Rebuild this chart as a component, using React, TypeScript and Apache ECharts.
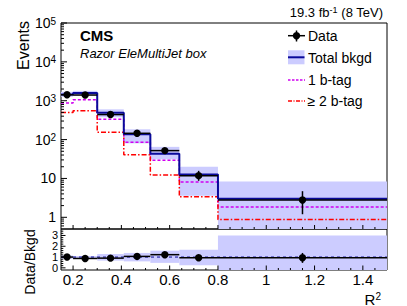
import React, { useEffect, useRef } from 'react';
import * as echarts from 'echarts';

// ---------- data ----------
const binEdges = [0.15, 0.2, 0.3, 0.41, 0.52, 0.64, 0.8, 1.5];
const binCenters = [0.175, 0.25, 0.355, 0.465, 0.58, 0.72, 1.15];

const dataValues = [1420, 1400, 440, 145, 52, 11.8, 2.8];
const dataErrLow = [1382, 1363, 419, 133, 45, 8.7, 1.2];
const dataErrHigh = [1458, 1437, 461, 157, 59, 15.7, 4.7];

const totalBkgd = [1450, 1580, 490, 137, 43, 12.6, 3.0];
const bkgdBandLow = [1270, 1380, 375, 80, 31, 3.6, 0.3];
const bkgdBandHigh = [1700, 1800, 600, 184, 65, 20, 8.4];

const oneBtag = [880, 1060, 333, 86, 29.6, 8.1, 1.85];
const twoBtag = [500, 550, 155, 41, 12.2, 3.4, 0.88];

const ratioValues = [1.0, 0.87, 0.9, 1.06, 1.22, 0.93, 0.93];
const ratioErrLow = [0.97, 0.84, 0.86, 0.98, 1.08, 0.66, 0.46];
const ratioErrHigh = [1.03, 0.9, 0.94, 1.14, 1.36, 1.2, 1.38];
const ratioBandLow = [0.85, 0.88, 0.67, 0.6, 0.46, 0.24, -1];
const ratioBandHigh = [1.15, 1.1, 1.28, 1.38, 1.59, 1.68, 3.0];

// tick marks
const xMajorTicks = [0.2, 0.4, 0.6, 0.8, 1.0, 1.2, 1.4];
const xMinorTicks = [0.25, 0.3, 0.35, 0.45, 0.5, 0.55, 0.65, 0.7, 0.75, 0.85, 0.9, 0.95, 1.05, 1.1, 1.15, 1.25, 1.3, 1.35, 1.45];
const yMajorTicks = [1, 10, 100, 1000, 10000, 100000];
const yMinorMantissas = [2, 3, 4, 5, 6, 7, 8, 9];
const yMinorDecades = [0.1, 1, 10, 100, 1000, 10000];
const rMajorTicks = [0, 1, 2, 3];
const rMinorTicks = [0.2, 0.4, 0.6, 0.8, 1.2, 1.4, 1.6, 1.8, 2.2, 2.4, 2.6, 2.8, 3.2, 3.4];

// axis ranges
const X_MIN = 0.15;
const X_MAX = 1.5;
const Y_MIN = 0.5;
const Y_MAX = 1e5;
const R_MIN = -0.2;
const R_MAX = 3.6;
const R_REF = 1;

const FONT = "'Liberation Sans', Arial, Helvetica, sans-serif";
const BAND = '#ccccff';
const NAVY = '#0a0a9a';
const MAG = '#d000f0';
const RED = '#ff0000';

function App() {
  const ref = useRef<HTMLDivElement>(null);

  useEffect(() => {
    if (!ref.current) return;
    const chart = echarts.init(ref.current, null, { renderer: 'svg' });

    const yMinorTicks: number[] = [];
    yMinorDecades.forEach((d) =>
      yMinorMantissas.forEach((m) => {
        const v = m * d;
        if (v > Y_MIN && v < Y_MAX) yMinorTicks.push(v);
      })
    );

    const stepData = (vals: number[]) =>
      binEdges.map((e, i) => [e, vals[Math.min(i, vals.length - 1)]]);

    const bandSeries = (lo: number[], hi: number[], idx: number, minV: number, maxV: number) => ({
      type: 'custom',
      xAxisIndex: idx,
      yAxisIndex: idx,
      z: 1,
      silent: true,
      data: binCenters.map((c, i) => [c, hi[i], i]),
      renderItem: (_p: any, api: any) => {
        const i = api.value(2);
        const top = Math.min(hi[i], maxV);
        const bot = Math.max(lo[i], minV);
        const p1 = api.coord([binEdges[i], top]);
        const p2 = api.coord([binEdges[i + 1], bot]);
        return {
          type: 'rect',
          shape: { x: p1[0], y: p1[1], width: p2[0] - p1[0], height: p2[1] - p1[1] },
          style: { fill: BAND },
        };
      },
    });

    const pointsSeries = (vals: number[], lo: number[], hi: number[], idx: number) => ({
      type: 'custom',
      xAxisIndex: idx,
      yAxisIndex: idx,
      z: 6,
      silent: true,
      data: binCenters.map((c, i) => [c, vals[i], i]),
      renderItem: (_p: any, api: any) => {
        const i = api.value(2);
        const pc = api.coord([binCenters[i], vals[i]]);
        const pl = api.coord([binEdges[i], vals[i]]);
        const pr = api.coord([binEdges[i + 1], vals[i]]);
        const plo = api.coord([binCenters[i], lo[i]]);
        const phi = api.coord([binCenters[i], hi[i]]);
        const st = { stroke: '#000', lineWidth: 1.5 };
        return {
          type: 'group',
          children: [
            { type: 'line', shape: { x1: pl[0], y1: pc[1], x2: pr[0], y2: pc[1] }, style: st },
            { type: 'line', shape: { x1: pc[0], y1: plo[1], x2: pc[0], y2: phi[1] }, style: st },
            { type: 'circle', shape: { cx: pc[0], cy: pc[1], r: 3.7 }, style: { fill: '#000' } },
          ],
        };
      },
    });

    const tickSeries = (idx: number, yBase: number, yTicks: [number, number][]) => {
      const items: number[][] = [];
      xMajorTicks.forEach((v) => items.push([v, yBase, idx === 0 ? 4 : 4.5, 0]));
      xMinorTicks.forEach((v) => items.push([v, yBase, 2, 0]));
      yTicks.forEach(([v, len]) => items.push([X_MIN, v, len, 1]));
      return {
        type: 'custom',
        xAxisIndex: idx,
        yAxisIndex: idx,
        z: 8,
        silent: true,
        data: items,
        renderItem: (_p: any, api: any) => {
          const isY = api.value(3) === 1;
          const len = api.value(2);
          const p = api.coord([api.value(0), api.value(1)]);
          return {
            type: 'line',
            shape: isY
              ? { x1: p[0], y1: p[1], x2: p[0] + len, y2: p[1] }
              : { x1: p[0], y1: p[1], x2: p[0], y2: p[1] - len },
            style: { stroke: '#000', lineWidth: 1 },
          };
        },
      };
    };

    const topYTicks: [number, number][] = [
      ...yMajorTicks.map((v) => [v, 6] as [number, number]),
      ...yMinorTicks.map((v) => [v, 3] as [number, number]),
    ];
    const ratioYTicks: [number, number][] = [
      ...rMajorTicks.map((v) => [v, 4.5] as [number, number]),
      ...rMinorTicks.map((v) => [v, 2.3] as [number, number]),
    ];

    const logLabel = (v: number) => {
      const l = Math.log10(v);
      const e = Math.round(l);
      if (Math.abs(l - e) > 1e-6) return '';
      if (e === 0) return '{n|1}';
      if (e === 1) return '{n|10}';
      return `{n|10}{s|${e}}`;
    };

    const option: any = {
      animation: false,
      textStyle: { fontFamily: FONT },
      grid: [
        { left: 61, top: 23, right: 20, height: 206, show: true, borderColor: '#000', borderWidth: 1, backgroundColor: 'transparent' },
        { left: 61, top: 229, right: 20, height: 41, show: true, borderColor: '#000', borderWidth: 1, backgroundColor: 'transparent' },
      ],
      xAxis: [
        {
          type: 'value', gridIndex: 0, min: X_MIN, max: X_MAX, minInterval: 0.2, maxInterval: 0.2,
          axisLine: { show: false }, axisTick: { show: false }, axisLabel: { show: false }, splitLine: { show: false },
        },
        {
          type: 'value', gridIndex: 1, min: X_MIN, max: X_MAX, minInterval: 0.2, maxInterval: 0.2,
          axisLine: { show: false }, axisTick: { show: false }, splitLine: { show: false },
          axisLabel: { showMinLabel: false, showMaxLabel: false, fontSize: 15, color: '#000', margin: 2, fontFamily: FONT },
        },
      ],
      yAxis: [
        {
          type: 'log', gridIndex: 0, min: Y_MIN, max: Y_MAX, logBase: 10,
          axisLine: { show: false }, axisTick: { show: false }, splitLine: { show: false },
          axisLabel: {
            showMinLabel: false, margin: 5, color: '#000', formatter: logLabel,
            rich: {
              n: { fontSize: 14, fontFamily: FONT, color: '#000', lineHeight: 14, verticalAlign: 'bottom' },
              s: { fontSize: 10, fontFamily: FONT, color: '#000', lineHeight: 10, verticalAlign: 'top', padding: [0, 0, 8, 0] },
            },
          },
        },
        {
          type: 'value', gridIndex: 1, min: R_MIN, max: R_MAX, minInterval: 1, maxInterval: 1,
          axisLine: { show: false }, axisTick: { show: false }, splitLine: { show: false },
          axisLabel: {
            showMinLabel: false, showMaxLabel: false, fontSize: 11, margin: 3, color: '#000', fontFamily: FONT,
            formatter: (v: number) => (Math.abs(v - Math.round(v)) < 1e-6 ? String(Math.round(v)) : ''),
          },
        },
      ],
      graphic: [
        { type: 'text', x: 80, y: 35, style: { text: 'CMS', fontFamily: FONT, fontWeight: 'bold', fontSize: 15, fill: '#000', textVerticalAlign: 'middle' } },
        { type: 'text', x: 80, y: 53.5, style: { text: 'Razor EleMultiJet box', fontFamily: FONT, fontStyle: 'italic', fontSize: 13, fill: '#000', textVerticalAlign: 'middle' } },
        {
          type: 'text', x: 383, y: 12,
          style: {
            text: '{a|19.3 fb}{s|-1}{a| (8 TeV)}', textAlign: 'right', textVerticalAlign: 'middle', fill: '#000',
            rich: {
              a: { fontSize: 13, fontFamily: FONT, fill: '#000', lineHeight: 14, verticalAlign: 'bottom' },
              s: { fontSize: 9, fontFamily: FONT, fill: '#000', lineHeight: 9, verticalAlign: 'top', padding: [0, 0, 6, 0] },
            },
          },
        },
        { type: 'text', x: 23, y: 21, rotation: Math.PI / 2, style: { text: 'Events', fontFamily: FONT, fontSize: 16, fill: '#000', textAlign: 'right', textVerticalAlign: 'middle' } },
        { type: 'text', x: 30, y: 262, rotation: Math.PI / 2, style: { text: 'Data/Bkgd', fontFamily: FONT, fontSize: 14, fill: '#000', textAlign: 'center', textVerticalAlign: 'middle' } },
        {
          type: 'text', x: 381, y: 299,
          style: {
            text: '{a|R}{s|2}', textAlign: 'right', textVerticalAlign: 'middle', fill: '#000',
            rich: {
              a: { fontSize: 15, fontFamily: FONT, fill: '#000', lineHeight: 15, verticalAlign: 'bottom' },
              s: { fontSize: 10, fontFamily: FONT, fill: '#000', lineHeight: 10, verticalAlign: 'top', padding: [0, 0, 7, 0] },
            },
          },
        },
        // legend
        { type: 'line', shape: { x1: 288, y1: 35.7, x2: 305, y2: 35.7 }, style: { stroke: '#000', lineWidth: 1.5 } },
        { type: 'line', shape: { x1: 296.5, y1: 30.5, x2: 296.5, y2: 41.5 }, style: { stroke: '#000', lineWidth: 1.5 } },
        { type: 'circle', shape: { cx: 296.5, cy: 35.7, r: 3.7 }, style: { fill: '#000' } },
        { type: 'text', x: 308, y: 36, style: { text: 'Data', fontFamily: FONT, fontSize: 14, fill: '#000', textVerticalAlign: 'middle' } },
        { type: 'rect', shape: { x: 288, y: 50.3, width: 16.5, height: 14 }, style: { fill: BAND } },
        { type: 'line', shape: { x1: 288, y1: 57.3, x2: 304.5, y2: 57.3 }, style: { stroke: NAVY, lineWidth: 2 } },
        { type: 'text', x: 308, y: 57.5, style: { text: 'Total bkgd', fontFamily: FONT, fontSize: 14, fill: '#000', textVerticalAlign: 'middle' } },
        { type: 'line', shape: { x1: 288, y1: 80, x2: 305, y2: 80 }, style: { stroke: MAG, lineWidth: 1.3, lineDash: [2.5, 1.5] } },
        { type: 'text', x: 308, y: 80, style: { text: '1 b-tag', fontFamily: FONT, fontSize: 14, fill: '#000', textVerticalAlign: 'middle' } },
        { type: 'line', shape: { x1: 288, y1: 101, x2: 305, y2: 101 }, style: { stroke: RED, lineWidth: 1.3, lineDash: [4, 1.5, 1, 1.5] } },
        { type: 'text', x: 307.5, y: 101, style: { text: '\u2265 2 b-tag', fontFamily: FONT, fontSize: 14, fill: '#000', textVerticalAlign: 'middle' } },
      ],
      series: [
        bandSeries(bkgdBandLow, bkgdBandHigh, 0, Y_MIN, Y_MAX),
        {
          type: 'line', xAxisIndex: 0, yAxisIndex: 0, step: 'end', symbol: 'none', z: 3, silent: true,
          data: stepData(oneBtag), lineStyle: { color: MAG, width: 1.5, type: [3, 2] },
        },
        {
          type: 'line', xAxisIndex: 0, yAxisIndex: 0, step: 'end', symbol: 'none', z: 3, silent: true,
          data: stepData(twoBtag), lineStyle: { color: RED, width: 1.5, type: [5, 2, 1.5, 2] },
        },
        {
          type: 'line', xAxisIndex: 0, yAxisIndex: 0, step: 'end', symbol: 'none', z: 4, silent: true,
          data: stepData(totalBkgd), lineStyle: { color: NAVY, width: 2 },
        },
        pointsSeries(dataValues, dataErrLow, dataErrHigh, 0),
        tickSeries(0, Y_MIN, topYTicks),
        bandSeries(ratioBandLow, ratioBandHigh, 1, R_MIN, R_MAX),
        {
          type: 'line', xAxisIndex: 1, yAxisIndex: 1, symbol: 'none', z: 3, silent: true,
          data: [[X_MIN, R_REF], [X_MAX, R_REF]], lineStyle: { color: NAVY, width: 1, type: [3, 3] },
        },
        pointsSeries(ratioValues, ratioErrLow, ratioErrHigh, 1),
        tickSeries(1, R_MIN, ratioYTicks),
      ],
    };

    chart.setOption(option);
    return () => chart.dispose();
  }, []);

  return (
    <div
      ref={ref}
      style={{ position: 'fixed', left: 0, top: 0, width: 407, height: 306, background: '#fff' }}
    />
  );
}

export default App;
